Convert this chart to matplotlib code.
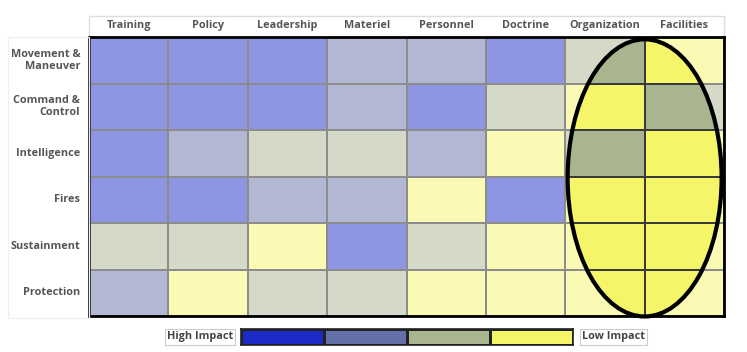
import matplotlib
matplotlib.use("Agg")
import matplotlib.pyplot as plt
import numpy as np
from matplotlib.colors import ListedColormap, BoundaryNorm, to_rgb
from matplotlib.patches import Ellipse, Rectangle

plt.rcParams['font.family'] = ['Open Sans', 'DejaVu Sans']

columns = ["Training", "Policy", "Leadership", "Materiel", "Personnel",
           "Doctrine", "Organization", "Facilities"]
rows = ["Movement &\nManeuver", "Command &\nControl", "Intelligence",
        "Fires", "Sustainment", "Protection"]
# impact level: 1 = high impact ... 4 = low impact
impact = [
    [1, 1, 1, 2, 2, 1, 3, 4],
    [1, 1, 1, 2, 1, 3, 4, 3],
    [1, 2, 3, 3, 2, 4, 3, 4],
    [1, 1, 2, 2, 4, 1, 4, 4],
    [3, 3, 4, 1, 3, 4, 4, 4],
    [2, 4, 3, 3, 4, 4, 4, 4],
]
legend_levels = [1, 2, 3, 4]
legend_labels = ["High Impact", "Low Impact"]

base_colors = ["#1c2bc8", "#6570a8", "#a9b58f", "#f5f56a"]
faded_colors = [tuple(0.5 * np.array(to_rgb(c)) + 0.5) for c in base_colors]
norm = BoundaryNorm([0.5, 1.5, 2.5, 3.5, 4.5], 4)
cmap_full = ListedColormap(base_colors)
cmap_faded = ListedColormap(faded_colors)

W, H = 747, 352
fig = plt.figure(figsize=(W / 100, H / 100), dpi=100)

x0, x1, ytop, ybot = 89, 724, 37, 316
ax = fig.add_axes([x0 / W, (H - ybot) / H, (x1 - x0) / W, (ybot - ytop) / H])
data = np.array(impact)
nr, nc = data.shape
ax.pcolormesh(np.arange(nc + 1), np.arange(nr + 1), data, cmap=cmap_faded,
              norm=norm, edgecolors="#8c8c8c", linewidth=1.2)
ell = Ellipse((7.0, 3.03), 1.94, 5.96, transform=ax.transData)
m2 = ax.pcolormesh(np.arange(nc + 1), np.arange(nr + 1), data, cmap=cmap_full,
                   norm=norm, edgecolors="#3a3a3a", linewidth=1.2)
m2.set_clip_path(ell)
ax.add_patch(Ellipse((7.0, 3.03), 1.94, 5.96, fill=False, edgecolor="black",
                     linewidth=3, zorder=5, clip_on=False))
ax.set_xlim(0, nc)
ax.set_ylim(nr, 0)
ax.set_xticks([])
ax.set_yticks([])
for s in ax.spines.values():
    s.set_linewidth(2)
    s.set_color("black")
    s.set_zorder(6)

txt_color = "#555555"
fs = 7.8
# header box
ax.add_patch(Rectangle((0, -0.45), nc, 0.45, fill=False, edgecolor="#dddddd",
                       linewidth=1, clip_on=False))
for i, c in enumerate(columns):
    ax.text(i + 0.5, -0.24, c, ha="center", va="center", fontsize=fs,
            fontweight="bold", color=txt_color, clip_on=False)
for j, r in enumerate(rows):
    ax.text(-0.11, j + 0.5, r, ha="right", va="center", fontsize=fs,
            fontweight="bold", color=txt_color, multialignment="right",
            linespacing=1.1, clip_on=False)
# faint box around row label region
fig.add_artist(Rectangle((8 / W, (H - 318) / H), (89 - 8) / W, (318 - 37) / H,
                         transform=fig.transFigure, fill=False,
                         edgecolor="#f0f0f0", linewidth=1))

# legend bar
lx0, lx1, ly0, ly1 = 241, 573, 329, 345
lax = fig.add_axes([lx0 / W, (H - ly1) / H, (lx1 - lx0) / W, (ly1 - ly0) / H])
lax.pcolormesh(np.arange(len(legend_levels) + 1), [0, 1], [legend_levels],
               cmap=cmap_full, norm=norm, edgecolors="#222222", linewidth=1)
lax.set_xlim(0, len(legend_levels))
lax.set_ylim(0, 1)
lax.set_xticks([])
lax.set_yticks([])
for s in lax.spines.values():
    s.set_linewidth(1.2)
    s.set_color("#222222")

box = dict(boxstyle="square,pad=0.2", facecolor="white", edgecolor="#cccccc",
           linewidth=0.8)
fig.text(233 / W, (H - 337) / H, legend_labels[0], ha="right", va="center",
         fontsize=fs, fontweight="bold", color="#444444", bbox=box)
fig.text(582 / W, (H - 337) / H, legend_labels[1], ha="left", va="center",
         fontsize=fs, fontweight="bold", color="#444444", bbox=box)

fig.savefig("out.png", dpi=100)
